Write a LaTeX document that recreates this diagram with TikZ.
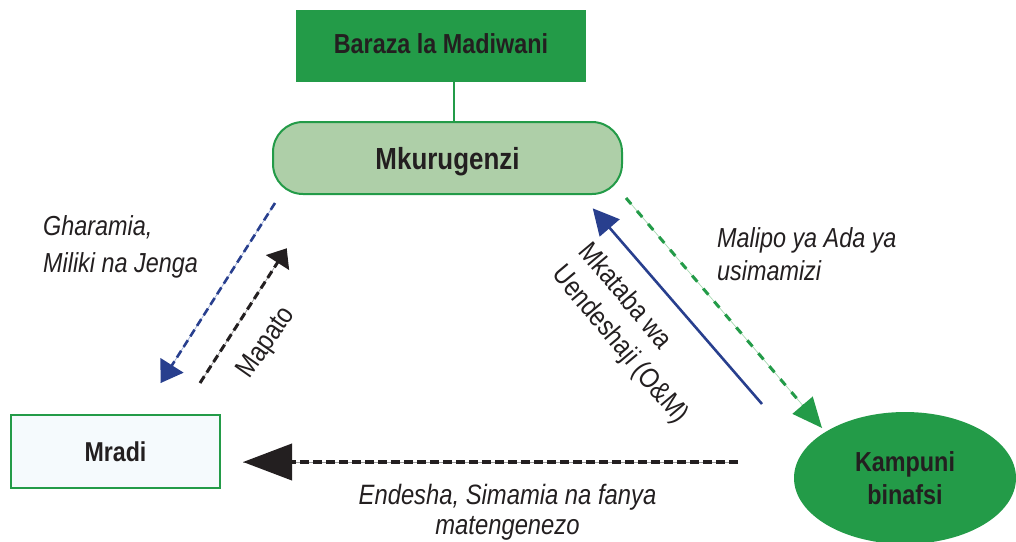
\documentclass[tikz,border=0pt]{standalone}
\usepackage{fontspec}
\setmainfont[FakeStretch=0.85]{Liberation Sans}
\usetikzlibrary{arrows.meta,shapes.geometric}
\definecolor{dgreen}{HTML}{239B48}
\definecolor{lgreen}{HTML}{AECFA8}
\definecolor{pale}{HTML}{F5FAFD}
\definecolor{dblue}{HTML}{283F8E}
\definecolor{txt}{HTML}{231F20}
\definecolor{lblue}{HTML}{9AAAD4}
\definecolor{lgrn}{HTML}{A6D8B0}
\definecolor{lgrey}{HTML}{9A9A9A}
\begin{document}
\begin{tikzpicture}[x=1pt,y=-1pt,
  boxtext/.style={text=txt, inner sep=0pt, font=\fontsize{27.5}{33}\selectfont\bfseries},
  lbl/.style={text=txt, inner sep=0pt, font=\fontsize{27.5}{33}\selectfont\itshape},
  rlbl/.style={text=txt, inner sep=0pt, font=\fontsize{28}{35}\selectfont},
  under/.style={line width=0.7pt},
  dashline/.style={line width=#1, dash pattern=on 8pt off 4.5pt},
]
\useasboundingbox (0,0) rectangle (1016,541);
\clip (0,0) rectangle (1016,541);

% nodes
\node[boxtext, fill=dgreen, minimum width=290pt, minimum height=72pt] (baraza) at (441,46)
  {\raisebox{4pt}{Baraza la Madiwani}};
\node[boxtext, font=\fontsize{30.5}{36}\selectfont\bfseries, fill=lgreen, draw=dgreen, line width=2pt,
  rounded corners=30pt, minimum width=349pt, minimum height=72pt, text depth=0pt] (mk) at (447.5,158) {Mkurugenzi};
\node[boxtext, font=\fontsize{27.3}{33}\selectfont\bfseries, fill=pale, draw=dgreen, line width=2pt,
  minimum width=209pt, minimum height=73pt] (mradi) at (115.5,451.5) {Mradi};
\node[boxtext, ellipse, fill=dgreen, minimum width=222pt, minimum height=132pt, align=center]
  (kampuni) at (905,478) {Kampuni\\binafsi};

% connector Baraza - Mkurugenzi
\coordinate (lx) at (454,0);
\draw[dgreen, line width=2pt] (baraza.south -| lx) -- (mk.north -| lx);

% arrow end points
\coordinate (gs) at (275,203);   \coordinate (ge) at (160.7,383);
\coordinate (ms) at (200,383);   \coordinate (me) at (286.7,248.3);
\coordinate (os) at (762,404);   \coordinate (oe) at (592.7,208.3);
\coordinate (ps) at (626,198);   \coordinate (pe) at (822,428);
\coordinate (es) at (738,462);   \coordinate (ee) at (243,462);

% Gharamia (blue dashed)
\draw[under, lblue] (gs) -- (ge);
\draw[dblue, dashline=2.6pt, -{Triangle[length=21pt,width=27pt]}] (gs) -- (ge);
% Mapato (black dashed)
\draw[under, lgrey] (ms) -- (me);
\draw[txt, dashline=3pt, -{Triangle[length=17pt,width=27pt]}] (ms) -- (me);
% O&M (blue solid)
\draw[dblue, line width=2.6pt, -{Triangle[length=26pt,width=26pt]}] (os) -- (oe);
% Malipo (green dashed)
\draw[under, lgrn] (ps) -- (pe);
\draw[dgreen, line width=3pt, dash pattern=on 8pt off 9pt, -{Triangle[length=30pt,width=26pt]}] (ps) -- (pe);
% Endesha (black dashed, bottom)
\draw[under, lgrey] (es) -- (ee);
\draw[txt, line width=4pt, dash pattern=on 9pt off 4pt, -{Triangle[length=49pt,width=36pt]}] (es) -- (ee);

% labels (base anchor = baseline of last line)
\node[lbl, anchor=base west, align=left, font=\fontsize{27.5}{37}\selectfont\itshape] (lg) at (43,272)
  {Gharamia,\\Miliki na Jenga};
\node[lbl, anchor=base west, align=left] (lp) at (717,280) {Malipo ya Ada ya\\usimamizi};
\node[lbl, anchor=base, align=center, font=\fontsize{28}{30}\selectfont\itshape] (le) at (507.5,534)
  {Endesha, Simamia na fanya\\matengenezo};
\node[rlbl, rotate=55] (lm) at (267,343) {Mapato};
\node[rlbl, rotate=-50, align=left] (lo) at (633,334) {Mkataba wa\\Uendeshaji (O\&M)};
\end{tikzpicture}
\end{document}
